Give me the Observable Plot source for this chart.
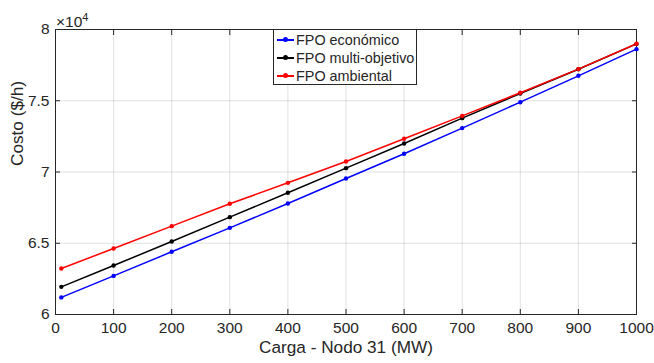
<!DOCTYPE html>
<html>
<head>
<meta charset="utf-8">
<script src="https://cdn.jsdelivr.net/npm/d3@7"></script>
<script src="https://cdn.jsdelivr.net/npm/@observablehq/plot@0.6"></script>
<style>
  html, body { margin: 0; padding: 0; background: #fff; }
  #wrap { position: relative; width: 654px; height: 363px; font-family: "Liberation Sans", Arial, sans-serif; }
  #legend { position: absolute; left: 273px; top: 29px; width: 144px; height: 56px; border: 1px solid #262626; background: #fff; box-sizing: border-box; font-size: 14.4px; color: #262626; }
  .row { position: absolute; left: 3px; height: 18px; display: flex; align-items: center; white-space: nowrap; }
  .sw { position: relative; flex: none; width: 17px; height: 2px; margin-right: 2px; }
  .sw i { position: absolute; left: 6px; top: -2px; width: 5px; height: 5px; border-radius: 50%; }
  #exp { position: absolute; left: 56px; top: 11px; font-size: 15.5px; color: #262626; }
  #exp sup { font-size: 11px; }
</style>
</head>
<body>
<div id="wrap"></div>
<script>
const carga = [10, 100, 200, 300, 400, 500, 600, 700, 800, 900, 1000];
const economico = [61200, 62710, 64400, 66080, 67790, 69540, 71280, 73080, 74900, 76750, 78620];
const multiobjetivo = [61940, 63440, 65120, 66830, 68540, 70270, 72000, 73780, 75510, 77210, 78990];
const ambiental = [63230, 64630, 66200, 67770, 69240, 70740, 72330, 73940, 75560, 77220, 79000];
const seriesNames = ["FPO económico", "FPO multi-objetivo", "FPO ambiental"];
const seriesColors = ["#0000ff", "#000000", "#ff0000"];
const xTicks = [0, 100, 200, 300, 400, 500, 600, 700, 800, 900, 1000];
const yTicks = [60000, 65000, 70000, 75000, 80000];

const allSeries = [economico, multiobjetivo, ambiental];
const data = allSeries.flatMap((vals, i) => vals.map((v, j) => ({x: carga[j], y: v, s: seriesNames[i]})));
const colorOf = Object.fromEntries(seriesNames.map((n, i) => [n, seriesColors[i]]));

const ink = "#262626";
const chart = Plot.plot({
  width: 654, height: 363,
  marginLeft: 55, marginRight: 18, marginTop: 29, marginBottom: 49,
  style: {fontFamily: '"Liberation Sans", Arial, sans-serif', fontSize: "15.5px", color: ink, background: "#fff"},
  x: {domain: [0, 1000]},
  y: {domain: [60000, 80000]},
  marks: [
    Plot.gridX(xTicks, {stroke: "#000", strokeOpacity: 0.12}),
    Plot.gridY(yTicks, {stroke: "#000", strokeOpacity: 0.12}),
    Plot.axisX(xTicks, {anchor: "bottom", tickSize: -5, tickPadding: 12, tickFormat: d => String(d), fontSize: 15.5, fill: ink, stroke: ink, label: null}),
    Plot.axisX(xTicks, {anchor: "top", tickSize: -5, tickFormat: () => "", stroke: ink, label: null}),
    Plot.axisY(yTicks, {anchor: "left", tickSize: -5, tickPadding: 11, tickFormat: d => String(d / 1e4), fontSize: 15.5, fill: ink, stroke: ink, label: null}),
    Plot.axisY(yTicks, {anchor: "right", tickSize: -5, tickFormat: () => "", stroke: ink, label: null}),
    Plot.frame({stroke: ink}),
    ...seriesNames.map(n => Plot.line(data.filter(d => d.s === n), {x: "x", y: "y", stroke: colorOf[n], strokeWidth: 1.5})),
    ...seriesNames.map(n => Plot.dot(data.filter(d => d.s === n), {x: "x", y: "y", fill: colorOf[n], r: 2.2})),
    Plot.text(["Carga - Nodo 31 (MW)"], {frameAnchor: "bottom", dy: 38, fontSize: 17.2, fill: ink}),
    Plot.text(["Costo ($/h)"], {frameAnchor: "left", dx: -38, dy: -6, rotate: -90, fontSize: 17.2, fill: ink})
  ]
});
const wrap = document.getElementById("wrap");
wrap.appendChild(chart);

const exp = document.createElement("div");
exp.id = "exp";
exp.innerHTML = "×10<sup>4</sup>";
wrap.appendChild(exp);

const legend = document.createElement("div");
legend.id = "legend";
seriesNames.forEach((n, i) => {
  const row = document.createElement("div");
  row.className = "row";
  row.style.top = (1 + i * 18) + "px";
  const sw = document.createElement("span");
  sw.className = "sw";
  sw.style.background = seriesColors[i];
  const dot = document.createElement("i");
  dot.style.background = seriesColors[i];
  sw.appendChild(dot);
  const t = document.createElement("span");
  t.textContent = n;
  row.appendChild(sw);
  row.appendChild(t);
  legend.appendChild(row);
});
wrap.appendChild(legend);
</script>
</body>
</html>
